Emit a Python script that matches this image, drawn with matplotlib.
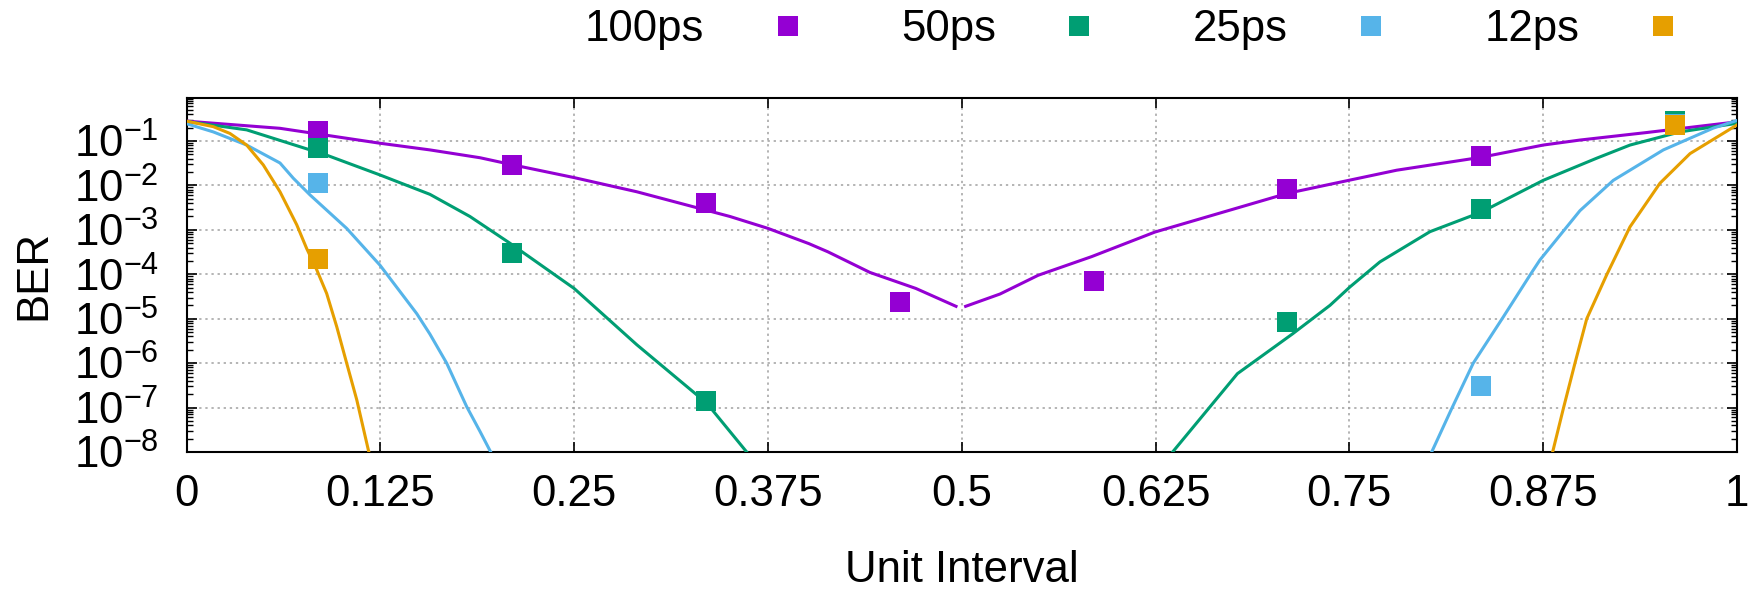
import numpy as np
import matplotlib.pyplot as plt
from matplotlib.lines import Line2D

plt.rcParams['font.family'] = ['Liberation Sans', 'DejaVu Sans']
plt.rcParams['mathtext.fontset'] = 'custom'
plt.rcParams['mathtext.rm'] = 'Liberation Sans'
plt.rcParams['mathtext.it'] = 'Liberation Sans'

# ---------------------------
# Data
# ---------------------------
labels = ["100ps", "50ps", "25ps", "12ps"]
colors = ["#9400d3", "#009e73", "#56b4e9", "#e69f00"]

# bathtub curves (NaN breaks the left / right branch)
x_100 = [0, 0.0603, 0.1248, 0.157, 0.1893, 0.2105, 0.25, 0.2904, 0.3075, 0.3505, 0.375, 0.4014,
         0.4137, 0.4408, 0.4704, 0.4963, np.nan,
         0.5025, 0.5247, 0.5493, 0.5838, 0.6245, 0.7098, 0.7375, 0.7805, 0.835, 0.875,
         0.8987, 0.9417, 1.0]
ber_100 = [2.8e-1, 1.93e-1, 8.9e-2, 6.3e-2, 4.2e-2, 2.9e-2, 1.5e-2, 7.2e-3, 5.0e-3, 2.0e-3, 1.08e-3, 4.9e-4,
           3.2e-4, 1.1e-4, 4.8e-5, 1.9e-5, np.nan,
           1.9e-5, 3.6e-5, 9.5e-5, 2.5e-4, 8.9e-4, 6.6e-3, 1.06e-2, 2.2e-2, 4.3e-2, 8.1e-2,
           1.05e-1, 1.55e-1, 2.7e-1]

x_50 = [0, 0.0388, 0.0904, 0.1248, 0.157, 0.1828, 0.2086, 0.25, 0.2904, 0.3355, 0.3613, 0.37,
        np.nan,
        0.628, 0.636, 0.6778, 0.7135, 0.7375, 0.7504, 0.7697, 0.802, 0.835, 0.875, 0.9095,
        0.931, 0.9632, 1.0]
ber_50 = [2.75e-1, 1.78e-1, 4.8e-2, 1.72e-2, 6.3e-3, 2.0e-3, 5.0e-4, 4.8e-5, 2.6e-6, 1.26e-7, 1e-8, 4.5e-9,
          np.nan,
          5e-9, 1e-8, 5.8e-7, 4.6e-6, 2.0e-5, 5.2e-5, 1.9e-4, 9.1e-4, 2.5e-3, 1.3e-2, 4.1e-2,
          8.1e-2, 1.6e-1, 2.5e-1]

x_25 = [0, 0.0173, 0.0388, 0.0603, 0.0689, 0.0797, 0.1033, 0.1248, 0.1485, 0.157, 0.1678, 0.1807,
        0.1893, 0.1962, 0.2, np.nan,
        0.798, 0.8031, 0.816, 0.8299, 0.8493, 0.8676, 0.8729, 0.8987, 0.9202, 0.9525, 0.9847, 1.0]
ber_25 = [2.45e-1, 1.6e-1, 8.1e-2, 3.2e-2, 1.45e-2, 6.1e-3, 1.08e-3, 1.6e-4, 1.3e-5, 4.5e-6, 1e-6, 1.05e-7,
          2.9e-8, 1e-8, 5.6e-9, np.nan,
          5e-9, 1e-8, 9.5e-8, 1e-6, 1.1e-5, 1.1e-4, 2.1e-4, 2.7e-3, 1.3e-2, 6.3e-2, 1.95e-1, 2.9e-1]

x_12 = [0, 0.0173, 0.028, 0.0388, 0.0495, 0.0603, 0.0711, 0.0775, 0.084, 0.0904, 0.0969, 0.1033,
        0.1098, 0.1173, 0.12, np.nan,
        0.879, 0.8811, 0.888, 0.8955, 0.9031, 0.916, 0.931, 0.9503, 0.9697, 1.0]
ber_12 = [2.8e-1, 2.1e-1, 1.48e-1, 8.1e-2, 2.9e-2, 7.2e-3, 1.3e-3, 3.8e-4, 1.26e-4, 3.7e-5, 6.6e-6, 1e-6,
          1.5e-7, 1.1e-8, 5e-9, np.nan,
          5e-9, 1e-8, 9.5e-8, 1.0e-6, 1e-5, 9.8e-5, 1.17e-3, 1.12e-2, 5.2e-2, 2.3e-1]

# measured points (squares)
x_pts = [0.085, 0.21, 0.335, 0.46, 0.585, 0.71, 0.835, 0.96]
pts_100 = [1.68e-1, 2.9e-2, 4.1e-3, 2.4e-5, 7.1e-5, 8.1e-3, 4.5e-2, 2.5e-1]
pts_50 = [6.8e-2, 3.0e-4, 1.4e-7, np.nan, np.nan, 8.3e-6, 3.0e-3, 2.8e-1]
pts_25 = [1.12e-2, np.nan, np.nan, np.nan, np.nan, np.nan, 3.1e-7, 2.4e-1]
pts_12 = [2.2e-4, np.nan, np.nan, np.nan, np.nan, np.nan, np.nan, 2.35e-1]

x_ticks = [0, 0.125, 0.25, 0.375, 0.5, 0.625, 0.75, 0.875, 1]
x_ticklabels = ["0", "0.125", "0.25", "0.375", "0.5", "0.625", "0.75", "0.875", "1"]
y_ticks = [1e-1, 1e-2, 1e-3, 1e-4, 1e-5, 1e-6, 1e-7, 1e-8]
y_ticklabels = [r"$\mathregular{10^{-%d}}$" % k for k in range(1, 9)]

# ---------------------------
# Plot
# ---------------------------
fig = plt.figure(figsize=(17.62, 5.90), dpi=100)
ax = fig.add_axes([186.5 / 1762, 1 - 452 / 590, 1550.5 / 1762, 353.7 / 590])

curves = [(x_100, ber_100), (x_50, ber_50), (x_25, ber_25), (x_12, ber_12)]
for (xs, ys), c in zip(curves, colors):
    ax.plot(xs, ys, color=c, lw=2.2, zorder=3)

points = [pts_100, pts_50, pts_25, pts_12]
for ys, c in zip(points, colors):
    ax.plot(x_pts, ys, linestyle="none", marker="s", markersize=13.8,
            markeredgewidth=0, color=c, zorder=4)

ax.set_yscale("log")
ax.set_xlim(0, 1)
ax.set_ylim(1e-8, 0.914)
ax.set_xticks(x_ticks)
ax.set_xticklabels(x_ticklabels)
ax.set_yticks(y_ticks)
ax.set_yticklabels(y_ticklabels)
ax.yaxis.set_minor_locator(plt.matplotlib.ticker.LogLocator(base=10, subs=np.arange(2, 10), numticks=20))
ax.yaxis.set_minor_formatter(plt.NullFormatter())

ax.tick_params(axis="both", which="major", direction="in", top=True, right=True,
               length=7, width=1.2, labelsize=31.5)
ax.tick_params(axis="x", which="major", pad=16)
ax.tick_params(axis="y", which="major", pad=20)
ax.tick_params(axis="y", which="minor", direction="in", right=True, length=4, width=1)
ax.tick_params(axis="x", which="minor", bottom=False, top=False)

ax.grid(True, which="major", linestyle=(0, (1.5, 2.5)), color="#a0a0a0", lw=1.1)
for s in ax.spines.values():
    s.set_linewidth(1.5)

ax.set_xlabel("Unit Interval", fontsize=31.5)
ax.xaxis.set_label_coords(0.5, -0.278)
ax.set_ylabel("BER", fontsize=31.5)
ax.yaxis.set_label_coords(-0.085, 0.5)

handles = [Line2D([], [], linestyle="none", marker="s", markersize=13.8,
                  markeredgewidth=0, color=c) for c in colors]
fig.legend(handles, labels, ncol=4, markerfirst=False, frameon=False,
           loc="center left", bbox_to_anchor=(585 / 1762, 1 - 30 / 590),
           fontsize=31.5, handlelength=1.0, handletextpad=1.4, columnspacing=2.1,
           borderpad=0, borderaxespad=0)

plt.savefig("out.png", dpi=100)
